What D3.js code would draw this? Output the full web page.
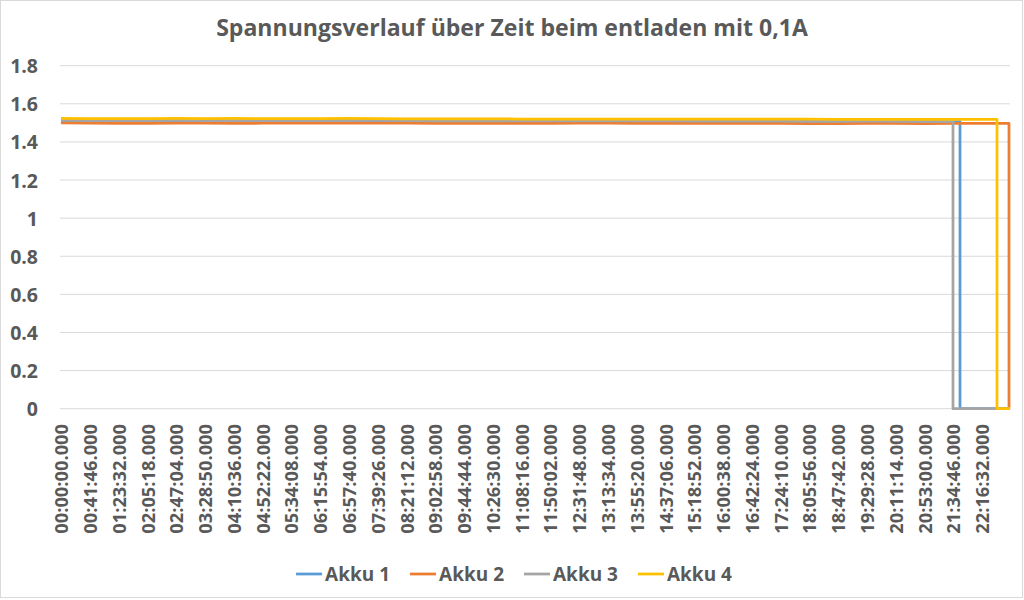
<!DOCTYPE html>
<html><head><meta charset="utf-8">
<script src="https://cdn.jsdelivr.net/npm/d3@7"></script>
<style>
html,body{margin:0;padding:0;background:#fff;}
svg{display:block;font-family:"Open Sans",sans-serif;}
</style></head>
<body>
<svg id="c" width="1024" height="600"></svg>
<script>
const title = "Spannungsverlauf über Zeit beim entladen mit 0,1A";
const timeLabels = ["00:00:00.000","00:41:46.000","01:23:32.000","02:05:18.000","02:47:04.000","03:28:50.000","04:10:36.000","04:52:22.000","05:34:08.000","06:15:54.000","06:57:40.000","07:39:26.000","08:21:12.000","09:02:58.000","09:44:44.000","10:26:30.000","11:08:16.000","11:50:02.000","12:31:48.000","13:13:34.000","13:55:20.000","14:37:06.000","15:18:52.000","16:00:38.000","16:42:24.000","17:24:10.000","18:05:56.000","18:47:42.000","19:29:28.000","20:11:14.000","20:53:00.000","21:34:46.000","22:16:32.000"];
const yTicks = [0,0.2,0.4,0.6,0.8,1,1.2,1.4,1.6,1.8];
const seriesNames = ["Akku 1","Akku 2","Akku 3","Akku 4"];
const seriesColors = ["#5b9bd5","#ed7d31","#a5a5a5","#ffc000"];
// voltage samples at each labelled time (V)
const akku1 = [1.510,1.511,1.510,1.510,1.511,1.512,1.511,1.510,1.511,1.512,1.512,1.511,1.511,1.510,1.511,1.512,1.511,1.512,1.510,1.510,1.510,1.510,1.509,1.509,1.510,1.509,1.508,1.508,1.509,1.508,1.507,1.507,1.507];
const akku2 = [1.500,1.499,1.497,1.497,1.498,1.498,1.497,1.498,1.498,1.498,1.498,1.499,1.498,1.497,1.497,1.497,1.497,1.497,1.498,1.498,1.497,1.497,1.497,1.497,1.497,1.497,1.496,1.496,1.497,1.497,1.496,1.497,1.497];
const akku3 = [1.513,1.512,1.512,1.512,1.513,1.512,1.512,1.512,1.512,1.512,1.512,1.513,1.512,1.511,1.510,1.510,1.510,1.510,1.510,1.510,1.510,1.510,1.509,1.509,1.509,1.509,1.508,1.508,1.509,1.508,1.507,1.507,1.507];
const akku4 = [1.523,1.522,1.522,1.522,1.523,1.522,1.523,1.522,1.522,1.522,1.523,1.522,1.521,1.521,1.521,1.521,1.520,1.520,1.520,1.520,1.520,1.520,1.519,1.519,1.519,1.519,1.519,1.518,1.518,1.518,1.518,1.518,1.518];
const seriesValues = [akku1, akku2, akku3, akku4];
// time (s) at which each cell dropped to 0 V, and end of the recording
const dropSeconds = [78295, 82563, 77685, 81518];
const endSeconds = 82650;

const toSec = s => { const [h,m,r] = s.split(":"); return (+h)*3600 + (+m)*60 + parseFloat(r); };
const labelSec = timeLabels.map(toSec);

const svg = d3.select("#c");
const txt = "#595959";
svg.append("rect").attr("x",0.5).attr("y",0.5).attr("width",1022).attr("height",597)
  .attr("fill","#fff").attr("stroke","#d9d9d9");

const x = d3.scaleLinear().domain([0,endSeconds]).range([61,1010]);
const y = d3.scaleLinear().domain([0,1.8]).range([408.7,65.7]);

// gridlines
svg.append("g").selectAll("line").data(yTicks).join("line")
  .attr("x1",60).attr("x2",1010).attr("y1",d=>y(d)).attr("y2",d=>y(d))
  .attr("stroke","#d9d9d9").attr("stroke-width",1);

// y axis labels
const yAxis = d3.axisLeft(y).tickValues(yTicks).tickFormat(d3.format("~g")).tickSize(0).tickPadding(0);
const gy = svg.append("g").attr("transform","translate(38,0)").call(yAxis);
gy.select(".domain").remove();
gy.selectAll("text").attr("fill",txt).attr("font-size",19.5).attr("font-weight","bold")
  .attr("font-family","'Open Sans',sans-serif").attr("dy","0.36em");

// x axis labels
const xAxis = d3.axisBottom(x).tickValues(labelSec).tickFormat((d,i)=>timeLabels[i]).tickSize(0).tickPadding(0);
const gx = svg.append("g").attr("transform","translate(0,424)").call(xAxis);
gx.select(".domain").remove();
gx.selectAll("text").attr("fill",txt).attr("font-size",18.3).attr("font-weight","bold")
  .attr("font-family","'Open Sans',sans-serif")
  .attr("transform","rotate(-90)").attr("text-anchor","end")
  .attr("x",0).attr("y",0).attr("dx",0).attr("dy","0.37em");

// series
const line = d3.line().x(d=>x(d[0])).y(d=>y(d[1]));
seriesValues.forEach((vals,k)=>{
  const pts = [];
  labelSec.forEach((t,i)=>{ if (t < dropSeconds[k]) pts.push([t, vals[i]]); });
  pts.push([dropSeconds[k], pts[pts.length-1][1]]);
  pts.push([dropSeconds[k], 0]);
  pts.push([endSeconds, 0]);
  svg.append("path").datum(pts).attr("d",line).attr("fill","none")
    .attr("stroke",seriesColors[k]).attr("stroke-width",2.75).attr("stroke-linejoin","round");
});

// title
const tt = svg.append("text").attr("x",512).attr("y",36).attr("text-anchor","middle")
  .attr("fill",txt).attr("font-weight","bold").attr("font-size",24).text(title);
const tl = tt.node().getComputedTextLength();
tt.attr("font-size", 24*592/tl);

// legend
const lg = svg.append("g");
let cx = 0;
seriesNames.forEach((n,k)=>{
  const g = lg.append("g").attr("transform",`translate(${cx},0)`);
  g.append("line").attr("x1",0).attr("x2",26).attr("y1",574).attr("y2",574)
    .attr("stroke",seriesColors[k]).attr("stroke-width",2.75);
  const t = g.append("text").attr("x",29).attr("y",581).attr("fill",txt)
    .attr("font-size",19).attr("font-weight","bold").text(n);
  cx += 29 + t.node().getComputedTextLength() + 20;
});
const totalW = cx - 20;
lg.attr("transform",`translate(${514 - totalW/2},0)`);
</script>
</body></html>
